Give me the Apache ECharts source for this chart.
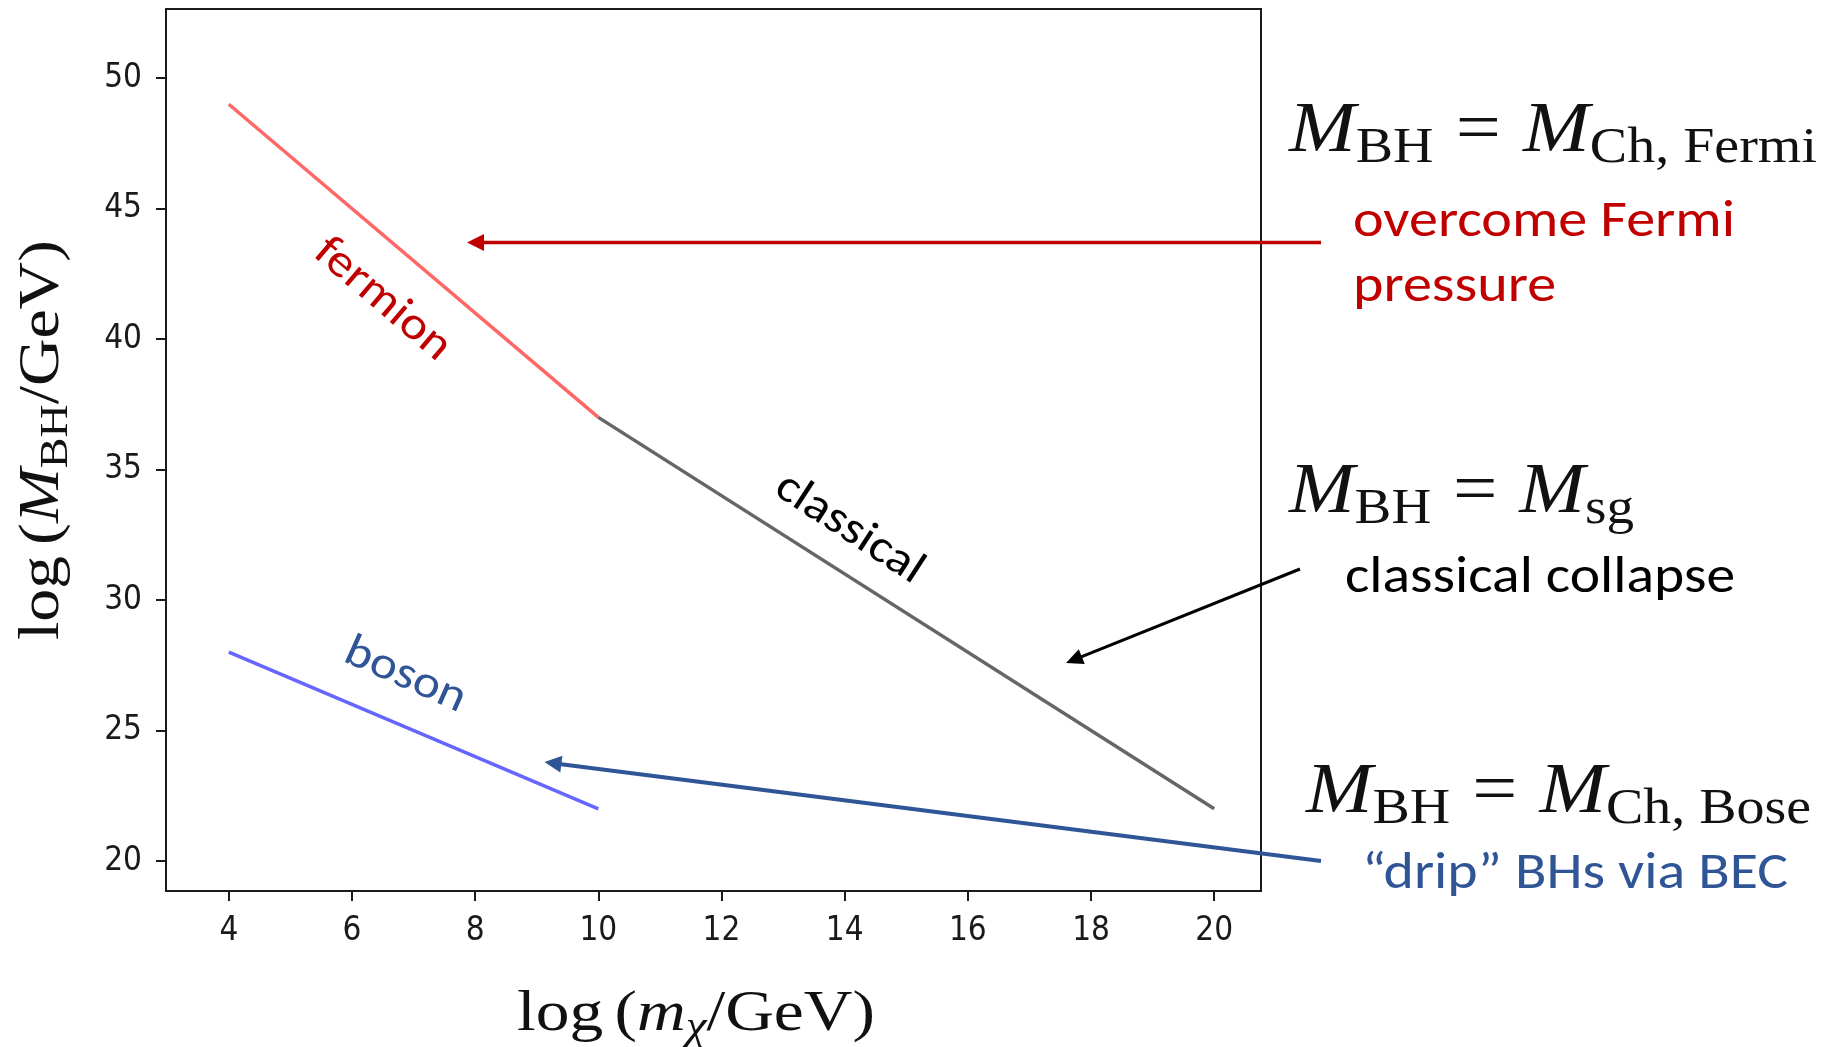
<!DOCTYPE html>
<html><head><meta charset="utf-8">
<script src="https://cdn.jsdelivr.net/npm/echarts@6/dist/echarts.min.js"></script>
<style>html,body{margin:0;padding:0;background:#fff;}#c{width:1829px;height:1047px;}</style>
</head><body><div id="c"></div>
<script>
// ---------- data ----------
const xTicks = [4, 6, 8, 10, 12, 14, 16, 18, 20];
const yTicks = [20, 25, 30, 35, 40, 45, 50];
const fermionX = [4, 10];
const fermionY = [49, 37];
const classicalX = [10, 20];
const classicalY = [37, 22];
const bosonX = [4, 10];
const bosonY = [28, 22];
const lineLabels = ['fermion', 'classical', 'boson'];
const noteTexts = ['overcome Fermi', 'pressure', 'classical collapse', '\u201cdrip\u201d BHs via BEC'];

function zip(xs, ys) { return xs.map((x, i) => [x, ys[i]]); }

// ---------- text helpers ----------
const cv = document.createElement('canvas').getContext('2d');
function fstr(fam, size, style) { return (style || 'normal') + ' normal ' + size + 'px ' + fam; }
function measureW(t, fam, size, style) { cv.font = fstr(fam, size, style); cv.textBaseline = 'alphabetic'; return cv.measureText(t).width; }
function midOff(fam, size, style) { cv.font = fstr(fam, size, style); cv.textBaseline = 'middle'; return cv.measureText('H').actualBoundingBoxDescent; }

const SERIF = '"Liberation Serif"';
const SANS = 'Carlito, Lato';

function mathGroup(spec, F, left, baseline, targetW, rotation, color) {
  let x = 0; const kids = [];
  for (const [t, k] of spec) {
    if (k === 'sp') { x += t * F; continue; }
    const isSub = k.indexOf('sub') === 0;
    const size = isSub ? 0.7 * F : F;
    const style = (k === 'it' || k === 'subit') ? 'italic' : 'normal';
    const drop = isSub ? 0.15 * F : 0;
    const w = measureW(t, SERIF, size, style);
    kids.push({ type: 'text', x: x, y: drop - midOff(SERIF, size, style),
      style: { text: t, fontFamily: SERIF, fontSize: size, fontStyle: style, fill: color || '#111', align: 'left', verticalAlign: 'middle' } });
    x += w;
  }
  return { type: 'group', x: left, y: baseline, rotation: rotation || 0, scaleX: targetW ? targetW / x : 1, children: kids };
}

function sansLine(t, left, baseline, size, color, targetW, sxFixed) {
  const w = measureW(t, SANS, size);
  const sx = sxFixed || (targetW / w);
  return { type: 'group', x: left, y: baseline, scaleX: sx, children: [
    { type: 'text', x: 0, y: -midOff(SANS, size),
      style: { text: t, fontFamily: SANS, fontSize: size, fill: color, align: 'left', verticalAlign: 'middle' } }] };
}

function rotLabel(t, cx, cy, deg, size, color, sx) {
  return { type: 'group', x: cx, y: cy, rotation: -deg * Math.PI / 180, children: [
    { type: 'text', x: 0, y: 0, scaleX: sx,
      style: { text: t, fontFamily: SANS, fontSize: size, fill: color, align: 'center', verticalAlign: 'middle' } }] };
}

function arrow(x1, y1, x2, y2, color, w, L, hw) {
  const dx = x2 - x1, dy = y2 - y1, len = Math.hypot(dx, dy);
  const ux = dx / len, uy = dy / len, nx = -uy, ny = ux;
  const bx = x2 - L * ux, by = y2 - L * uy;
  return [
    { type: 'line', shape: { x1: x1, y1: y1, x2: bx + ux * 2, y2: by + uy * 2 }, style: { stroke: color, lineWidth: w } },
    { type: 'polygon', shape: { points: [[x2, y2], [bx + hw * nx, by + hw * ny], [bx - hw * nx, by - hw * ny]] }, style: { fill: color } }
  ];
}

// ---------- chart ----------
const AX = '#1a1a1a';
const tickFont = '"DejaVu Sans Condensed", "DejaVu Sans", sans-serif';
const RED = '#c00000', BLUE = '#2f5597';

const annSize = 52;
const globalSX = 382 / measureW(noteTexts[0], SANS, annSize);

const graphics = [];
// axis titles
graphics.push(mathGroup([['log', 'rm'], [0.1667, 'sp'], ['(', 'rm'], ['M', 'it'], ['BH', 'sub'], ['/', 'rm'], ['GeV', 'rm'], [')', 'rm']],
  58, 58, 640, 400, Math.PI / 2));
graphics.push(mathGroup([['log', 'rm'], [0.1667, 'sp'], ['(', 'rm'], ['m', 'it'], ['\u03c7', 'subit'], ['/', 'rm'], ['GeV', 'rm'], [')', 'rm']],
  58, 517, 1030, 358, 0));
// equations
graphics.push(mathGroup([['M', 'it'], ['BH', 'sub'], [0.2777, 'sp'], ['=', 'rm'], [0.2777, 'sp'], ['M', 'it'], ['Ch, Fermi', 'sub']],
  72, 1289, 151, 528, 0));
graphics.push(mathGroup([['M', 'it'], ['BH', 'sub'], [0.2777, 'sp'], ['=', 'rm'], [0.2777, 'sp'], ['M', 'it'], ['sg', 'sub']],
  72, 1289, 512, 345, 0));
graphics.push(mathGroup([['M', 'it'], ['BH', 'sub'], [0.2777, 'sp'], ['=', 'rm'], [0.2777, 'sp'], ['M', 'it'], ['Ch, Bose', 'sub']],
  72, 1306, 812, 505, 0));
// notes
graphics.push(sansLine(noteTexts[0], 1353, 236, annSize, RED, 382));
graphics.push(sansLine(noteTexts[1], 1353, 301, annSize, RED, 0, globalSX));
graphics.push(sansLine(noteTexts[2], 1345, 592, annSize, '#000', 390));
graphics.push(sansLine(noteTexts[3], 1362, 888, annSize, BLUE, 426));
// line labels
graphics.push(rotLabel(lineLabels[0], 382, 300, 40.5, 46, RED, globalSX));
graphics.push(rotLabel(lineLabels[1], 849, 529, 33, 46, '#000', globalSX));
graphics.push(rotLabel(lineLabels[2], 405, 676, 24, 46, BLUE, globalSX));
// arrows
arrow(1321, 242.6, 467, 242.6, RED, 3.5, 17, 8.5).forEach(g => graphics.push(g));
arrow(1300, 569, 1066, 663, '#000', 3, 17, 8).forEach(g => graphics.push(g));
arrow(1321, 861, 544.5, 762, BLUE, 4, 17, 8.5).forEach(g => graphics.push(g));

const chart = echarts.init(document.getElementById('c'), null, { renderer: 'canvas' });
chart.setOption({
  animation: false,
  backgroundColor: '#ffffff',
  grid: { left: 166, top: 9, width: 1095, height: 882, show: true, borderColor: AX, borderWidth: 2, containLabel: false, outerBoundsMode: 'none' },
  xAxis: {
    type: 'value', min: 2.98, max: 20.76,
    axisLine: { show: true, onZero: false, lineStyle: { color: AX, width: 2 } },
    axisTick: { show: true, customValues: xTicks, length: 10, lineStyle: { color: AX, width: 2 } },
    axisLabel: { customValues: xTicks, fontSize: 33, fontFamily: tickFont, color: '#1a1a1a', margin: 24 },
    splitLine: { show: false }
  },
  yAxis: {
    type: 'value', min: 18.85, max: 52.65,
    axisLine: { show: true, onZero: false, lineStyle: { color: AX, width: 2 } },
    axisTick: { show: true, customValues: yTicks, length: 10, lineStyle: { color: AX, width: 2 } },
    axisLabel: { customValues: yTicks, fontSize: 33, fontFamily: tickFont, color: '#1a1a1a', margin: 24 },
    splitLine: { show: false }
  },
  series: [
    { type: 'line', name: 'fermion', data: zip(fermionX, fermionY), showSymbol: false, silent: true, lineStyle: { color: '#ff6666', width: 3.5 } },
    { type: 'line', name: 'classical', data: zip(classicalX, classicalY), showSymbol: false, silent: true, lineStyle: { color: '#666666', width: 3.5 } },
    { type: 'line', name: 'boson', data: zip(bosonX, bosonY), showSymbol: false, silent: true, lineStyle: { color: '#6666ff', width: 3.5 } }
  ],
  graphic: graphics
});
</script></body></html>
